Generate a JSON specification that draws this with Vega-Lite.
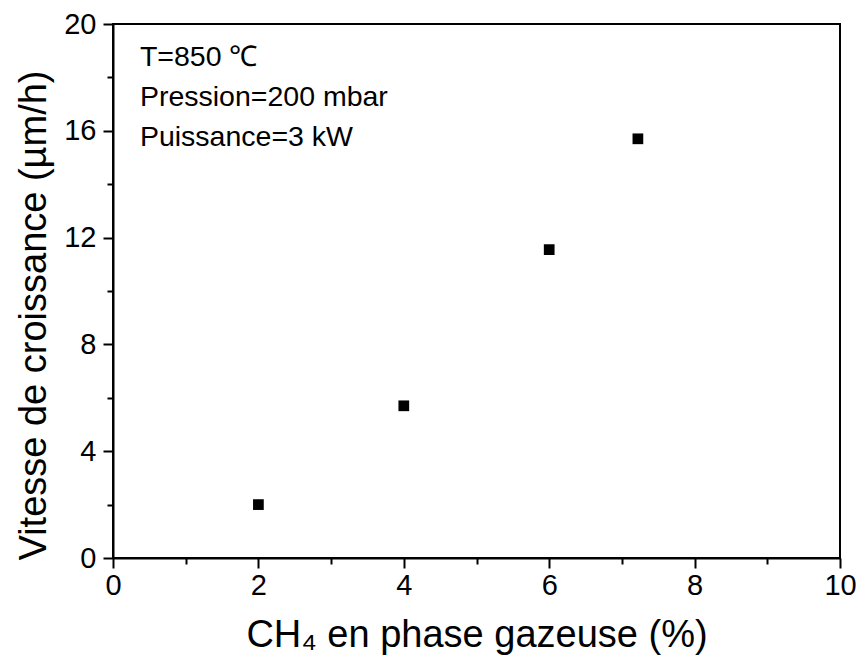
{
  "$schema": "https://vega.github.io/schema/vega-lite/v6.json",
  "width": 727,
  "height": 534,
  "autosize": {"type": "none"},
  "padding": {"left": 113, "top": 24, "right": 18, "bottom": 112},
  "background": "white",
  "config": {
    "font": "Liberation Sans",
    "view": {"stroke": "black", "strokeWidth": 2},
    "axis": {
      "domainColor": "black", "domainWidth": 2, "tickColor": "black", "tickWidth": 2,
      "labelColor": "black", "titleColor": "black", "grid": false,
      "labelFont": "Liberation Sans", "titleFont": "Liberation Sans",
      "labelFontSize": 29, "titleFontSize": 38, "titleFontWeight": "normal"
    }
  },
  "layer": [
    {
      "data": {"values": [
        {"ch4": 2.0, "v": 2.0},
        {"ch4": 4.0, "v": 5.7},
        {"ch4": 6.0, "v": 11.55},
        {"ch4": 7.22, "v": 15.7}
      ]},
      "mark": {"type": "point", "shape": "square", "filled": true, "color": "black", "size": 115, "opacity": 1},
      "encoding": {
        "x": {
          "field": "ch4", "type": "quantitative",
          "scale": {"domain": [0, 10], "nice": false, "zero": false},
          "axis": {
            "title": "CH₄ en phase gazeuse (%)",
            "values": [0, 1, 2, 3, 4, 5, 6, 7, 8, 9, 10],
            "format": "d",
            "labelExpr": "datum.value % 2 === 0 ? datum.label : ''",
            "tickSize": {"condition": {"test": "datum.value % 2 === 0", "value": 10}, "value": 6},
            "labelPadding": 3,
            "labelFlush": false,
            "titlePadding": 16
          }
        },
        "y": {
          "field": "v", "type": "quantitative",
          "scale": {"domain": [0, 20], "nice": false, "zero": false},
          "axis": {
            "title": "Vitesse de croissance (µm/h)",
            "values": [0, 2, 4, 6, 8, 10, 12, 14, 16, 18, 20],
            "format": "d",
            "labelExpr": "datum.value % 4 === 0 ? datum.label : ''",
            "tickSize": {"condition": {"test": "datum.value % 4 === 0", "value": 10}, "value": 6},
            "labelPadding": 7,
            "labelFlush": false,
            "titlePadding": 10,
            "titleY": 291
          }
        }
      }
    },
    {
      "data": {"values": [
        {"x": 0.37, "y": 18.75, "label": "T=850 ℃"},
        {"x": 0.37, "y": 17.25, "label": "Pression=200 mbar"},
        {"x": 0.37, "y": 15.75, "label": "Puissance=3 kW"}
      ]},
      "mark": {"type": "text", "align": "left", "baseline": "middle", "fontSize": 28.5, "font": "Liberation Sans", "color": "black"},
      "encoding": {
        "x": {"field": "x", "type": "quantitative"},
        "y": {"field": "y", "type": "quantitative"},
        "text": {"field": "label"}
      }
    }
  ]
}
